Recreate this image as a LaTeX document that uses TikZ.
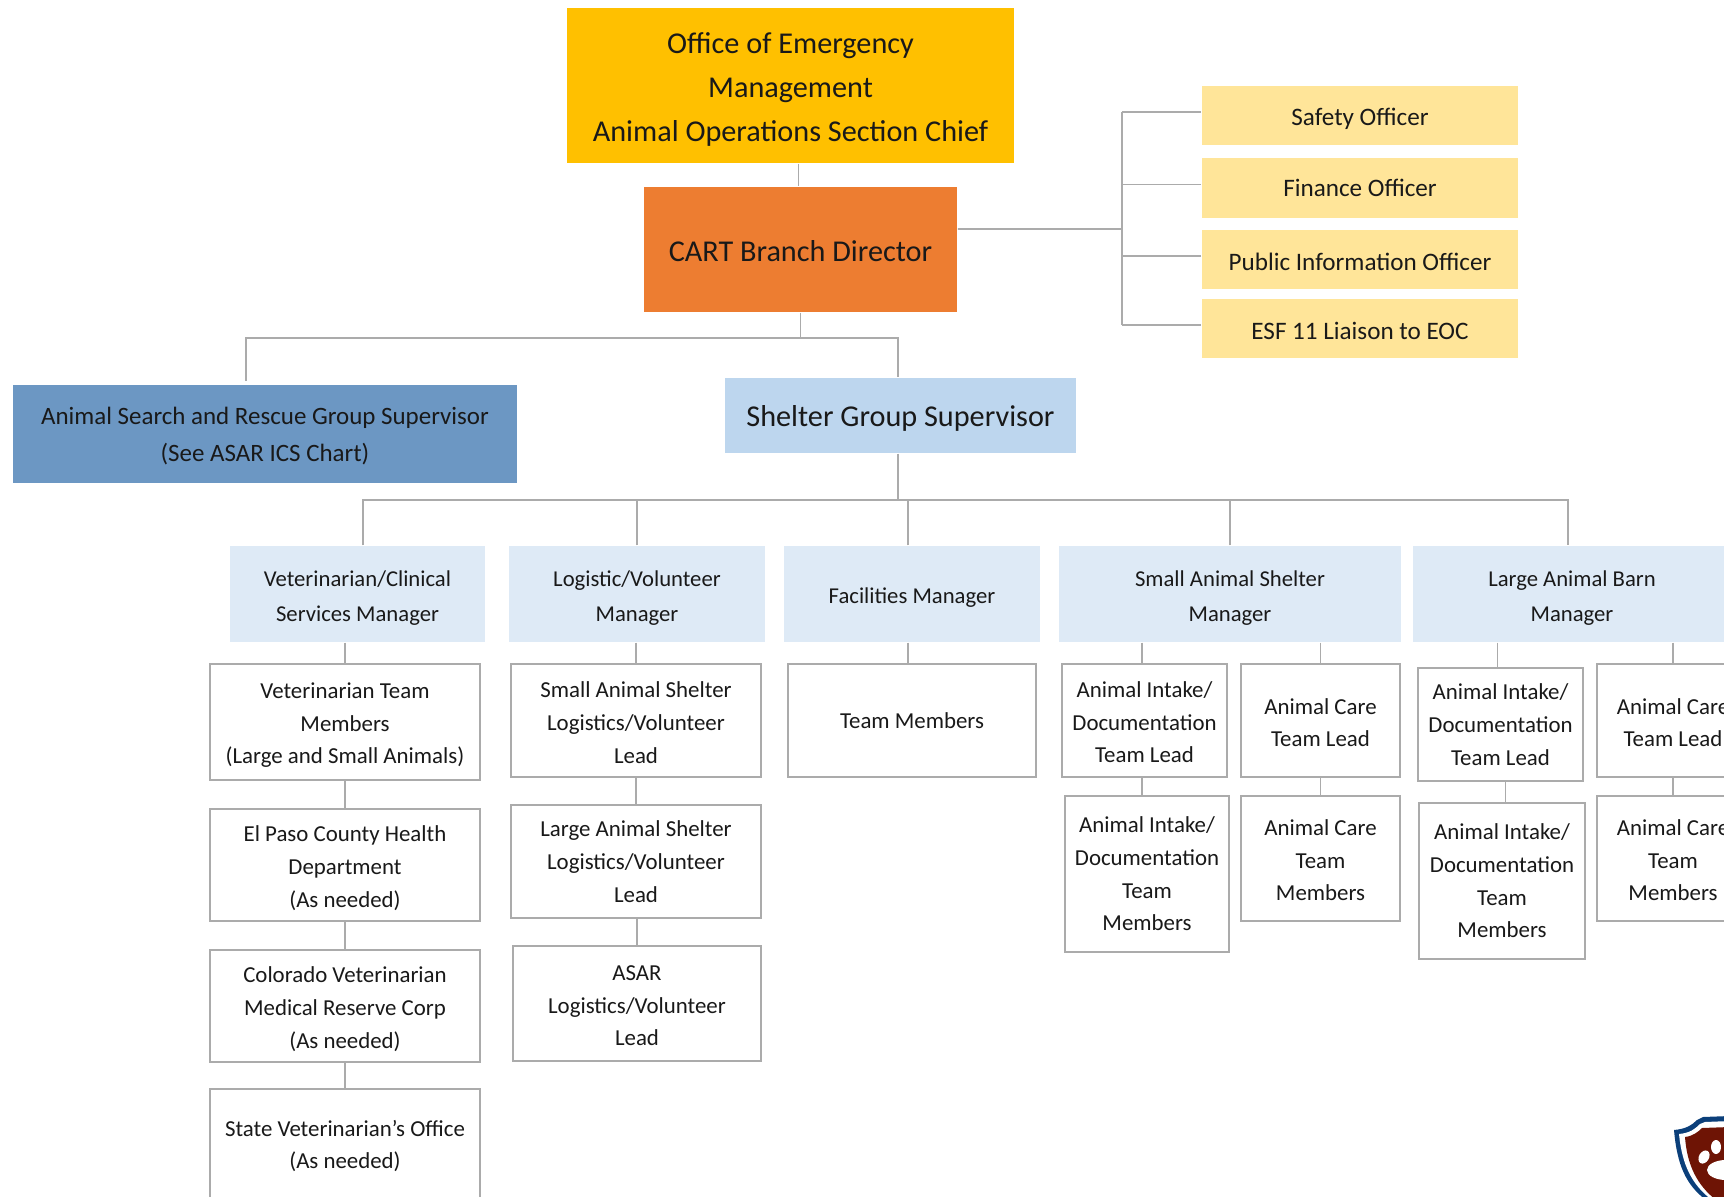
\documentclass[tikz,border=0pt]{standalone}
\usepackage{fontspec}
\setmainfont{Carlito}
\definecolor{chiefgold}{HTML}{FFC000}
\definecolor{branchorange}{HTML}{ED7D31}
\definecolor{asarblue}{HTML}{6C97C3}
\definecolor{sheltblue}{HTML}{BDD6EE}
\definecolor{mgrblue}{HTML}{DEEAF6}
\definecolor{staffyellow}{HTML}{FFE599}
\definecolor{linegray}{HTML}{ABABAB}
\definecolor{shieldnavy}{HTML}{0B3F7A}
\definecolor{shieldred}{HTML}{6E1405}
\tikzset{
  box/.style={align=center,inner sep=0pt,text=black!90},
  lift/.style={execute at begin node={\rule{0pt}{#1}}},
  chief/.style={box,lift=33pt,fill=chiefgold,font=\fontsize{8.6}{12.5}\selectfont},
  branch/.style={box,lift=7pt,fill=branchorange,font=\fontsize{8.6}{12.4}\selectfont},
  staff/.style={box,fill=staffyellow,minimum width=3.16cm,minimum height=.59cm,font=\fontsize{7.15}{9.3}\selectfont},
  group/.style={box,lift=16.5pt,fill=asarblue,font=\fontsize{7.1}{10.6}\selectfont},
  sheltgroup/.style={box,lift=7.6pt,fill=sheltblue,font=\fontsize{8.6}{12.4}\selectfont},
  mgr/.style={box,fill=mgrblue,minimum height=.96cm,font=\fontsize{6.45}{9.8}\selectfont},
  team/.style={box,draw=linegray,line width=.55pt,fill=white,font=\fontsize{6.5}{9.3}\selectfont},
  conn/.style={draw=linegray,line width=.55pt}
}
\begin{document}
\begin{tikzpicture}[x=.01cm,y=-.01cm]
\useasboundingbox (0,0) rectangle (1724,1197);
% top of the chart
\node[chief,minimum width=4.47cm,minimum height=1.55cm] (chief) at (790.5,85.5) {Office of Emergency\\Management\\Animal Operations Section Chief};
\node[branch,minimum width=3.13cm,minimum height=1.25cm] (cart) at (800.5,249.5) {CART Branch Director};
\node[staff,lift=6.7pt] (safety) at (1360,115.5) {Safety Officer};
\node[staff] (finance) at (1360,188) {Finance Officer};
\node[staff,lift=6.5pt] (pio) at (1360,259.5) {Public Information Officer};
\node[staff,lift=6.5pt] (esf) at (1360,328.5) {ESF 11 Liaison to EOC};
\node[group,minimum width=5.04cm,minimum height=.98cm] (asar) at (265,434) {Animal Search and Rescue Group Supervisor\\(See ASAR ICS Chart)};
\node[sheltgroup,minimum width=3.51cm,minimum height=.75cm] (shelter) at (900.5,415.5) {Shelter Group Supervisor};
% managers
\node[mgr,lift=16.5pt,minimum width=2.55cm] (vet) at (357.5,594) {Veterinarian/Clinical\\Services Manager};
\node[mgr,lift=16.5pt,minimum width=2.56cm] (log) at (637,594) {Logistic/Volunteer\\Manager};
\node[mgr,lift=6.6pt,minimum width=2.56cm] (fac) at (912,594) {Facilities Manager};
\node[mgr,lift=16.5pt,minimum width=3.42cm] (small) at (1230,594) {Small Animal Shelter\\Manager};
\node[mgr,lift=16.5pt,minimum width=3.18cm] (large) at (1572,594) {Large Animal Barn\\Manager};
% first column
\node[team,lift=25pt,minimum width=2.7cm,minimum height=1.16cm] (vetteam) at (345,722) {Veterinarian Team\\Members\\(Large and Small Animals)};
\node[team,lift=25pt,minimum width=2.7cm,minimum height=1.12cm] (elpaso) at (345,865) {El Paso County Health\\Department\\(As needed)};
\node[team,lift=24.8pt,minimum width=2.7cm,minimum height=1.12cm] (medres) at (345,1006) {Colorado Veterinarian\\Medical Reserve Corp\\(As needed)};
\node[team,minimum width=2.7cm,minimum height=1.14cm] (statevet) at (345,1146) {State Veterinarian’s Office\\(As needed)};
% second column
\node[team,lift=24.4pt,minimum width=2.5cm,minimum height=1.13cm] (logsmall) at (636,720.5) {Small Animal Shelter\\Logistics/Volunteer\\Lead};
\node[team,minimum width=2.5cm,minimum height=1.13cm] (loglarge) at (636,861.5) {Large Animal Shelter\\Logistics/Volunteer\\Lead};
\node[team,lift=24.1pt,minimum width=2.48cm,minimum height=1.15cm] (logasar) at (637,1003.5) {ASAR\\Logistics/Volunteer\\Lead};
% third column
\node[team,minimum width=2.48cm,minimum height=1.13cm] (facteam) at (912,720.5) {Team Members};
% small animals
\node[team,lift=24.1pt,minimum width=1.65cm,minimum height=1.13cm] (smallin) at (1144.5,720.5) {Animal Intake/\\Documentation\\Team Lead};
\node[team,minimum width=1.64cm,minimum height=1.56cm] (smallinm) at (1147,874) {Animal Intake/\\Documentation\\Team\\Members};
\node[team,lift=15.1pt,minimum width=1.59cm,minimum height=1.13cm] (smallcare) at (1320.5,720.5) {Animal Care\\Team Lead};
\node[team,lift=24.1pt,minimum width=1.59cm,minimum height=1.25cm] (smallcarem) at (1320.5,858.5) {Animal Care\\Team\\Members};
% large animals
\node[team,minimum width=1.65cm,minimum height=1.13cm] (largein) at (1500.5,724.5) {Animal Intake/\\Documentation\\Team Lead};
\node[team,minimum width=1.66cm,minimum height=1.56cm] (largeinm) at (1502,881) {Animal Intake/\\Documentation\\Team\\Members};
\node[team,lift=15.1pt,minimum width=1.52cm,minimum height=1.13cm] (largecare) at (1673,720.5) {Animal Care\\Team Lead};
\node[team,lift=24.1pt,minimum width=1.52cm,minimum height=1.25cm] (largecarem) at (1673,858.5) {Animal Care\\Team\\Members};
% connectors
\coordinate (spine) at (1122,229);
\coordinate (busa) at (246,338);
\coordinate (busb) at (898,338);
\coordinate (asardrop) at (246,381);
\coordinate (busc) at (363,500);
\coordinate (busd) at (1568,500);
\draw[conn] ([xshift=-.02cm]chief.south -| cart.north) -- ([xshift=-.02cm]cart.north);
\draw[conn] ([yshift=.205cm]cart.east) -- (spine);
\draw[conn] ([yshift=.035cm]safety.west -| spine) -- ([yshift=.035cm]esf.west -| spine);
\foreach \n in {safety,finance,pio,esf}
  \draw[conn] ([yshift=.035cm]\n.west) -- ([yshift=.035cm]\n.west -| spine);
\draw[conn] (cart.south) -- (cart.south |- busa);
\draw[conn] (asardrop) -- (busa) -- (busb) -- (busb |- shelter.north);
\draw[conn] (shelter.south -| busb) -- (busb |- busd);
\draw[conn] (busc |- vet.north) -- (busc) -- (busd) -- (busd |- large.north);
\foreach \n in {log,small}
  \draw[conn] (\n.north) -- (\n.north |- busd);
\draw[conn] ([xshift=-.04cm]fac.north) -- ([xshift=-.04cm]fac.north |- busd);
\foreach \a/\b in {vet/vetteam,vetteam/elpaso,elpaso/medres,medres/statevet,log/logsmall,logsmall/loglarge,loglarge/logasar}
  \draw[conn] (\b.north |- \a.south) -- (\b.north);
\foreach \a/\b in {small/smallcare,smallcare/smallcarem,large/largecare,largecare/largecarem}
  \draw[conn] (\a.south -| \b.north) -- (\b.north);
\draw[conn] ([xshift=-.04cm]facteam.north |- fac.south) -- ([xshift=-.04cm]facteam.north);
\draw[conn] ([xshift=-.025cm]smallin.north |- small.south) -- ([xshift=-.025cm]smallin.north);
\draw[conn] ([xshift=-.025cm]smallin.south) -- ([xshift=-.025cm]smallin.south |- smallinm.north);
\draw[conn] ([xshift=-.03cm]largein.north |- large.south) -- ([xshift=-.03cm]largein.north);
\draw[conn] ([xshift=.05cm]largein.south) -- ([xshift=.05cm]largein.south |- largeinm.north);
% logo in the corner
\fill[shieldnavy] (1674,1130) .. controls (1686,1129) and (1692,1125) .. (1697,1120) -- (1703,1117) -- (1730,1116) -- (1730,1200) -- (1706,1200) .. controls (1686,1185) and (1677,1165) .. (1674,1130);
\fill[white] (1679,1134) .. controls (1690,1133) and (1695,1129) .. (1700,1124) -- (1705,1122) -- (1730,1121) -- (1730,1200) -- (1712,1200) .. controls (1692,1185) and (1682,1165) .. (1679,1134);
\fill[shieldred] (1685,1137) .. controls (1693,1136) and (1698,1132) .. (1702,1128) -- (1730,1127) -- (1730,1200) -- (1716,1200) .. controls (1697,1185) and (1687,1165) .. (1685,1137);
\fill[white] (1716,1147) ellipse (5 and 7);
\fill[white,rotate around={-30:(1704,1157)}] (1704,1157) ellipse (5 and 7);
\fill[white] (1726,1170) ellipse (19 and 10);
\end{tikzpicture}
\end{document}
